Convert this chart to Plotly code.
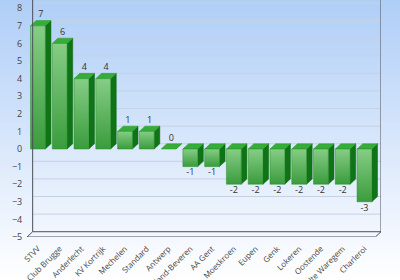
import plotly.graph_objects as go
import numpy as np

categories = ["STVV", "Club Brugge", "Anderlecht", "KV Kortrijk", "Mechelen", "Standard",
              "Antwerp", "Waasland-Beveren", "AA Gent", "Moeskroen", "Eupen", "Genk",
              "Lokeren", "Oostende", "Zulte Waregem", "Charleroi"]
values = [7, 6, 4, 4, 1, 1, 0, -1, -1, -2, -2, -2, -2, -2, -2, -3]
y_ticks = list(range(-5, 9))

W = 0.68     # front face width (category units)
DX = 0.26    # depth, x (category units)
DY = 0.3     # depth, y (value units)
YMIN, YMAX = -5, 8.47

fig = go.Figure()

# background gradient on a full-paper hidden subplot (drawn first)
grad = np.linspace(0, 1, 60).reshape(-1, 1)
fig.add_trace(go.Heatmap(z=grad, x=[0], y=np.linspace(0, 1, 60), xaxis="x", yaxis="y",
                         colorscale=[[0, "#ffffff"], [0.12, "#f6f9fe"], [1, "#afcef7"]],
                         showscale=False, hoverinfo="skip"))

for i, v in enumerate(values):
    l, r = i - W / 2, i + W / 2
    top = max(v, 0)
    bot = min(v, 0)
    # side face
    fig.add_trace(go.Scatter(x=[r, r + DX, r + DX, r, r], y=[bot, bot + DY, top + DY, top, bot],
                             fill="toself", fillcolor="#0f7415", mode="lines", xaxis="x2", yaxis="y2",
                             line=dict(color="#0b6410", width=0.5), hoverinfo="skip", showlegend=False))
    # top face
    fig.add_trace(go.Scatter(x=[l, r, r + DX, l + DX, l], y=[top, top, top + DY, top + DY, top],
                             fill="toself", fillcolor="#36ad39", mode="lines", xaxis="x2", yaxis="y2",
                             line=dict(color="#249a28", width=0.5), hoverinfo="skip", showlegend=False))
    # front face
    if v != 0:
        fig.add_trace(go.Scatter(x=[l, r, r, l, l], y=[bot, bot, top, top, bot],
                                 fill="toself", mode="lines", xaxis="x2", yaxis="y2",
                                 fillgradient=dict(type="vertical",
                                                   colorscale=[[0, "#3a9c3c"], [1, "#86cd86"]]),
                                 line=dict(color="#2a8f2e", width=0.5), hoverinfo="skip", showlegend=False))

# value labels
pos_x = [i + DX / 2 for i, v in enumerate(values) if v >= 0]
pos_y = [v + DY + 0.05 for v in values if v >= 0]
pos_t = [str(v) for v in values if v >= 0]
neg_x = [i for i, v in enumerate(values) if v < 0]
neg_y = [v - 0.12 for v in values if v < 0]
neg_t = [str(v) for v in values if v < 0]
lblfont = dict(size=9, color="#333333", family="Open Sans")
fig.add_trace(go.Scatter(x=pos_x, y=pos_y, text=pos_t, mode="text", textposition="top center",
                         textfont=lblfont, xaxis="x2", yaxis="y2",
                         hoverinfo="skip", showlegend=False, cliponaxis=False))
fig.add_trace(go.Scatter(x=neg_x, y=neg_y, text=neg_t, mode="text", textposition="bottom center",
                         textfont=lblfont, xaxis="x2", yaxis="y2",
                         hoverinfo="skip", showlegend=False, cliponaxis=False))

XL, XR = -0.5, len(categories) - 0.5
shapes = []
# back-wall gridlines
for t in y_ticks[1:]:
    shapes.append(dict(type="line", xref="x2", yref="y2", x0=XL + DX, x1=XR + DX, y0=t + DY, y1=t + DY,
                       line=dict(color="#c5d2e2", width=1), layer="below"))
frame = dict(color="#4a4f57", width=1)
shapes += [
    dict(type="line", xref="x2", yref="y2", x0=XL + DX, x1=XL + DX, y0=YMIN + DY, y1=YMAX + 1, line=frame),
    dict(type="line", xref="x2", yref="y2", x0=XR + DX, x1=XR + DX, y0=YMIN + DY, y1=YMAX + 1, line=frame),
    dict(type="line", xref="x2", yref="y2", x0=XL, x1=XR, y0=YMIN, y1=YMIN, line=frame),
    dict(type="line", xref="x2", yref="y2", x0=XL + DX, x1=XR + DX, y0=YMIN + DY, y1=YMIN + DY, line=frame),
    dict(type="line", xref="x2", yref="y2", x0=XL, x1=XL + DX, y0=YMIN, y1=YMIN + DY, line=frame),
    dict(type="line", xref="x2", yref="y2", x0=XR, x1=XR + DX, y0=YMIN, y1=YMIN + DY, line=frame),
]

fig.update_layout(
    width=400, height=280,
    margin=dict(l=0, r=0, t=0, b=0),
    paper_bgcolor="#ffffff", plot_bgcolor="rgba(0,0,0,0)",
    showlegend=False,
    shapes=shapes,
    xaxis=dict(domain=[0, 1], range=[-0.5, 0.5], visible=False, fixedrange=True),
    yaxis=dict(domain=[0, 1], range=[0, 1], visible=False, fixedrange=True),
    xaxis2=dict(domain=[27 / 400, 381 / 400], range=[XL, XR + DX], anchor="y2",
                tickvals=list(range(len(categories))), ticktext=categories,
                tickangle=-45, showgrid=False, zeroline=False, showline=False,
                ticks="outside", ticklen=3, tickcolor="rgba(0,0,0,0)",
                tickfont=dict(size=8, color="#444444", family="Open Sans"),
                automargin=False, fixedrange=True),
    yaxis2=dict(domain=[43 / 280, 1], range=[YMIN, YMAX], anchor="x2", tickvals=y_ticks,
                showgrid=False, zeroline=False, showline=False,
                ticks="outside", ticklen=2, tickcolor="rgba(0,0,0,0)",
                tickfont=dict(size=9, color="#444444", family="Open Sans"),
                automargin=False, fixedrange=True),
)

fig.write_html("out.html")
